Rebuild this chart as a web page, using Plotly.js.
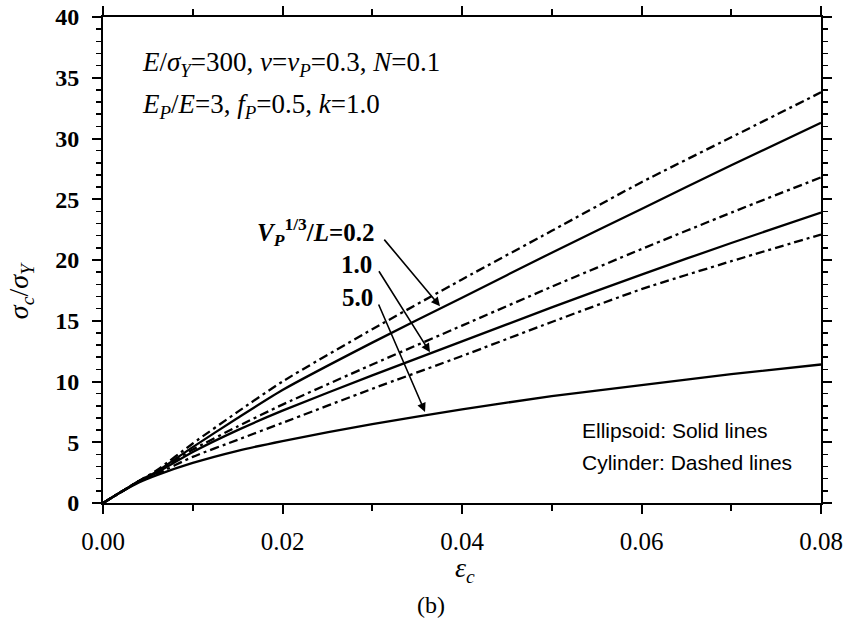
<!DOCTYPE html>
<html>
<head>
<meta charset="utf-8">
<script src="https://cdn.plot.ly/plotly-3.0.1.min.js"></script>
<style>body{margin:0;background:#fff;} #chart{width:847px;height:618px;}</style>
</head>
<body>
<div id="chart"></div>
<script>
// strain values (x)
const strain = [0, 0.002, 0.004, 0.006, 0.01, 0.015, 0.02, 0.03, 0.04, 0.05, 0.06, 0.07, 0.08];
// Ellipsoid (solid lines)
const ell02 = [0, 0.9, 1.8, 2.6, 4.6, 7.0, 9.3, 13.2, 16.9, 20.6, 24.2, 27.8, 31.3];
const ell10 = [0, 0.9, 1.8, 2.5, 4.2, 6.0, 7.6, 10.5, 13.3, 16.1, 18.8, 21.4, 23.9];
const ell50 = [0, 0.9, 1.7, 2.3, 3.3, 4.3, 5.1, 6.5, 7.7, 8.8, 9.7, 10.6, 11.4];
// Cylinder (dashed lines)
const cyl02 = [0, 0.9, 1.8, 2.7, 4.9, 7.5, 10.0, 14.3, 18.4, 22.4, 26.4, 30.1, 33.8];
const cyl10 = [0, 0.9, 1.8, 2.6, 4.4, 6.3, 8.1, 11.4, 14.6, 17.8, 20.9, 23.9, 26.8];
const cyl50 = [0, 0.9, 1.8, 2.4, 3.8, 5.2, 6.6, 9.4, 12.1, 14.9, 17.6, 19.9, 22.1];

const labels = ['<i>V</i><sub><i>P</i></sub><sup>1/3</sup>/<i>L</i>=0.2', '1.0', '5.0'];

const solid = {color: '#000', width: 2.3};
const dashed = {color: '#000', width: 2.3, dash: '9px,4px,3px,4px'};

const traces = [
  {x: strain, y: cyl02, mode: 'lines', line: dashed},
  {x: strain, y: cyl10, mode: 'lines', line: dashed},
  {x: strain, y: cyl50, mode: 'lines', line: dashed},
  {x: strain, y: ell02, mode: 'lines', line: solid},
  {x: strain, y: ell10, mode: 'lines', line: solid},
  {x: strain, y: ell50, mode: 'lines', line: solid}
].map(t => Object.assign(t, {showlegend: false, hoverinfo: 'skip', line: Object.assign({shape: 'spline', smoothing: 0.6}, t.line)}));

const serif = 'Liberation Serif, Times New Roman, serif';
const sans = 'Liberation Sans, Arial, sans-serif';

const arrow = (x, y, ax, ay) => ({
  x: x, y: y, ax: ax, ay: ay, xref: 'x', yref: 'y', axref: 'x', ayref: 'y',
  text: '', showarrow: true, arrowhead: 2, arrowsize: 1.1, arrowwidth: 1.6,
  arrowcolor: '#000', standoff: 0, startstandoff: 0
});

const annotations = [
  {x: 0.0041, y: 36.1, xref: 'x', yref: 'y', xanchor: 'left', yanchor: 'middle', showarrow: false,
   text: '<i>E</i>/<i>σ</i><sub><i>Y</i></sub>=300, <i>ν</i>=<i>ν</i><sub><i>P</i></sub>=0.3, <i>N</i>=0.1',
   font: {family: serif, size: 27, color: '#000'}},
  {x: 0.0041, y: 32.7, xref: 'x', yref: 'y', xanchor: 'left', yanchor: 'middle', showarrow: false,
   text: '<i>E</i><sub><i>P</i></sub>/<i>E</i>=3, <i>f</i><sub><i>P</i></sub>=0.5, <i>k</i>=1.0',
   font: {family: serif, size: 27, color: '#000'}},
  {x: 0.0305, y: 22.3, xref: 'x', yref: 'y', xanchor: 'right', yanchor: 'middle', showarrow: false,
   text: '<b>' + labels[0] + '</b>', font: {family: serif, size: 25, color: '#000'}},
  {x: 0.0283, y: 19.6, xref: 'x', yref: 'y', xanchor: 'center', yanchor: 'middle', showarrow: false,
   text: '<b>' + labels[1] + '</b>', font: {family: serif, size: 25, color: '#000'}},
  {x: 0.0284, y: 16.95, xref: 'x', yref: 'y', xanchor: 'center', yanchor: 'middle', showarrow: false,
   text: '<b>' + labels[2] + '</b>', font: {family: serif, size: 25, color: '#000'}},
  arrow(0.03755, 16.2, 0.0312, 21.8),
  arrow(0.03643, 12.4, 0.03064, 19.2),
  arrow(0.03588, 7.5, 0.03064, 16.46),
  {x: 0.0531, y: 6.0, xref: 'x', yref: 'y', xanchor: 'left', yanchor: 'middle', showarrow: false,
   text: 'Ellipsoid: Solid lines', font: {family: sans, size: 21, color: '#000'}},
  {x: 0.0531, y: 3.37, xref: 'x', yref: 'y', xanchor: 'left', yanchor: 'middle', showarrow: false,
   text: 'Cylinder: Dashed lines', font: {family: sans, size: 21, color: '#000'}},
  {x: -0.1156, y: 0.438, xref: 'paper', yref: 'paper', xanchor: 'center', yanchor: 'middle', showarrow: false,
   textangle: -90, text: '<i>σ</i><sub><i>c</i></sub>/<i>σ</i><sub><i>Y</i></sub>',
   font: {family: serif, size: 28, color: '#000'}},
  {x: 0.504, y: -0.137, xref: 'paper', yref: 'paper', xanchor: 'center', yanchor: 'middle', showarrow: false,
   text: '<i>ε</i><sub><i>c</i></sub>', font: {family: serif, size: 28, color: '#000'}},
  {x: 0.457, y: -0.21, xref: 'paper', yref: 'paper', xanchor: 'center', yanchor: 'middle', showarrow: false,
   text: '(b)', font: {family: serif, size: 24, color: '#000'}}
];

const layout = {
  width: 847, height: 618,
  margin: {l: 103, r: 26, t: 17, b: 115},
  paper_bgcolor: '#fff', plot_bgcolor: '#fff',
  showlegend: false,
  xaxis: {
    range: [0, 0.08], dtick: 0.02, tick0: 0, tickformat: '.2f',
    showgrid: false, zeroline: false, showline: true, linecolor: '#000', linewidth: 2,
    mirror: 'ticks', ticks: 'outside', ticklen: 9, tickwidth: 2, tickcolor: '#000',
    minor: {dtick: 0.01, tick0: 0, ticks: 'outside', ticklen: 6, tickwidth: 2, tickcolor: '#000', showgrid: false},
    tickfont: {family: serif, size: 25, color: '#000'}, ticklabelstandoff: 6
  },
  yaxis: {
    range: [0, 40], dtick: 5, tick0: 0,
    showgrid: false, zeroline: false, showline: true, linecolor: '#000', linewidth: 2,
    mirror: 'ticks', ticks: 'outside', ticklen: 9, tickwidth: 2, tickcolor: '#000',
    minor: {dtick: 1, tick0: 0, ticks: 'outside', ticklen: 5, tickwidth: 1.5, tickcolor: '#000', showgrid: false},
    tickfont: {family: serif, size: 24, color: '#000', weight: 'bold'}, ticklabelstandoff: 8
  },
  annotations: annotations
};

Plotly.newPlot('chart', traces, layout, {displayModeBar: false, staticPlot: true});
</script>
</body>
</html>
